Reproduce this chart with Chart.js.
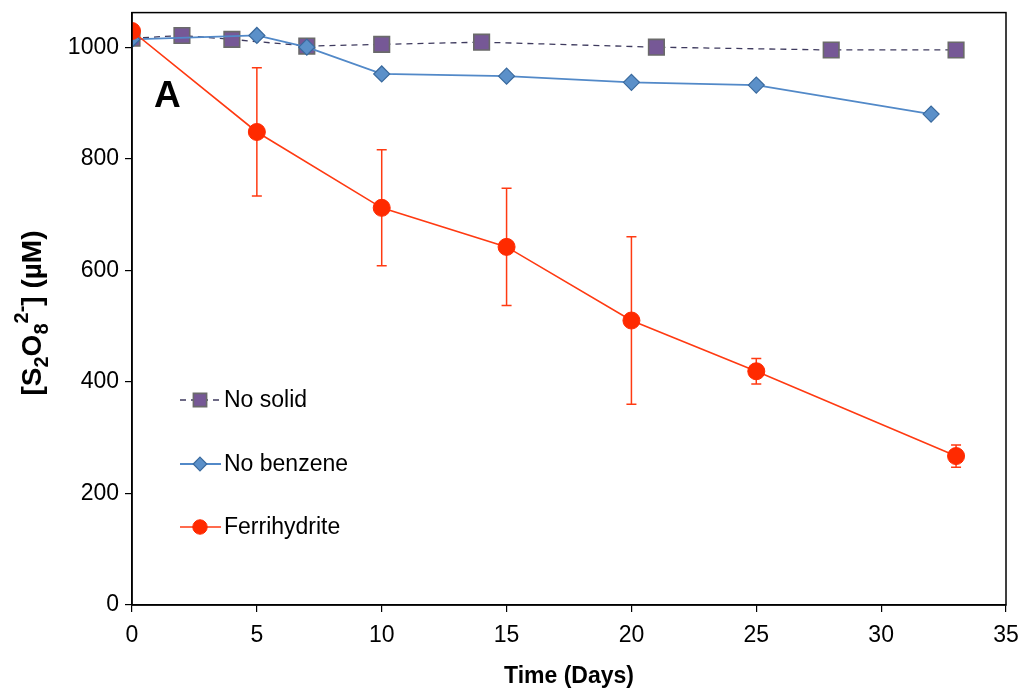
<!DOCTYPE html>
<html>
<head>
<meta charset="utf-8">
<script src="https://cdn.jsdelivr.net/npm/chart.js@4.4.1/dist/chart.umd.min.js"></script>
<style>
  html, body { margin: 0; padding: 0; background: #fff; }
  #wrap { width: 1025px; height: 694px; }
</style>
</head>
<body>
<div id="wrap"><canvas id="c" width="1025" height="694"></canvas></div>
<script>
// --- data ---
const noSolidX = [0, 2, 4, 7, 10, 14, 21, 28, 33];
const noSolidY = [1016, 1021, 1014, 1002, 1005, 1009, 1000, 995, 995];

const noBenzX = [0, 5, 7, 10, 15, 20, 25, 32];
const noBenzY = [1014, 1021, 1000, 952, 948, 937, 932, 880];

const ferriX = [0, 5, 10, 15, 20, 25, 33];
const ferriY = [1029, 848, 712, 642, 510, 419, 267];
const ferriErr = [0, 115, 104, 105, 150, 23, 20];

const xTicks = [0, 5, 10, 15, 20, 25, 30, 35];
const yTicks = [0, 200, 400, 600, 800, 1000];

const FONT = "'Liberation Sans', Arial, sans-serif";
const pts = (xs, ys) => xs.map((x, i) => ({ x, y: ys[i] }));

const datasets = [
  {
    label: "Ferrihydrite", data: pts(ferriX, ferriY),
    borderColor: "#ff3a12", backgroundColor: "#ff2a00", borderWidth: 1.6,
    pointStyle: "circle", pointRadius: 8.5, pointBorderColor: "#ff2a00", pointBorderWidth: 1,
    errors: ferriErr,
  },
  {
    label: "No benzene", data: pts(noBenzX, noBenzY),
    borderColor: "#5289c8", backgroundColor: "#5b90c9", borderWidth: 1.8,
    pointStyle: "rectRot", pointRadius: 8, pointBorderColor: "#3a6a9e", pointBorderWidth: 1.2,
  },
  {
    label: "No solid", data: pts(noSolidX, noSolidY),
    borderColor: "#3e3a5e", backgroundColor: "#765896", borderWidth: 1.3, borderDash: [6, 5],
    pointStyle: "rect", pointRadius: 11, pointBorderColor: "#6a6a6a", pointBorderWidth: 1.6,
  },
];

// error bars for datasets that carry an `errors` array
const errorBars = {
  id: "errorBars",
  beforeDatasetsDraw(chart) {
    const { ctx, scales: { x, y } } = chart;
    chart.data.datasets.forEach((d) => {
      if (!d.errors) return;
      ctx.save();
      ctx.strokeStyle = d.borderColor;
      ctx.lineWidth = 1.5;
      d.data.forEach((p, i) => {
        const e = d.errors[i];
        if (!e) return;
        const px = x.getPixelForValue(p.x);
        const top = y.getPixelForValue(p.y + e), bot = y.getPixelForValue(p.y - e);
        ctx.beginPath();
        ctx.moveTo(px, top); ctx.lineTo(px, bot);
        ctx.moveTo(px - 5, top); ctx.lineTo(px + 5, top);
        ctx.moveTo(px - 5, bot); ctx.lineTo(px + 5, bot);
        ctx.stroke();
      });
      ctx.restore();
    });
  },
};

// frame, panel letter, in-plot legend and the y title with sub/superscripts
const decor = {
  id: "decor",
  afterDraw(chart) {
    const { ctx, chartArea: a } = chart;
    ctx.save();
    ctx.strokeStyle = "#000";
    ctx.lineWidth = 1.5;
    ctx.strokeRect(a.left, a.top, a.right - a.left, a.bottom - a.top);

    ctx.fillStyle = "#000";
    ctx.font = "bold 37px " + FONT;
    ctx.textBaseline = "alphabetic";
    ctx.fillText("A", 154, 107);

    // legend
    const order = [2, 1, 0];
    const rows = [400, 464, 527];
    order.forEach((di, k) => {
      const d = chart.data.datasets[di];
      const yy = rows[k];
      ctx.save();
      ctx.strokeStyle = d.borderColor;
      ctx.lineWidth = d.borderWidth;
      ctx.setLineDash(d.borderDash || []);
      ctx.beginPath(); ctx.moveTo(180, yy); ctx.lineTo(221, yy); ctx.stroke();
      ctx.restore();
      ctx.save();
      ctx.fillStyle = d.backgroundColor;
      ctx.strokeStyle = d.pointBorderColor;
      ctx.lineWidth = d.pointBorderWidth;
      ctx.beginPath();
      const r = d.pointRadius * 0.85;
      if (d.pointStyle === "circle") ctx.arc(200, yy, r, 0, Math.PI * 2);
      else if (d.pointStyle === "rectRot") { ctx.moveTo(200, yy - r); ctx.lineTo(200 + r, yy); ctx.lineTo(200, yy + r); ctx.lineTo(200 - r, yy); ctx.closePath(); }
      else { const s = r * Math.SQRT1_2; ctx.rect(200 - s, yy - s, 2 * s, 2 * s); }
      ctx.fill(); ctx.stroke();
      ctx.restore();
      ctx.fillStyle = "#000";
      ctx.font = "23px " + FONT;
      ctx.textAlign = "left";
      ctx.textBaseline = "middle";
      ctx.fillText(d.label, 224, yy + 1);
    });

    // y axis title: [S2O8 2-] (µM)
    const parts = [
      ["[S", 0, 28], ["2", 7, 20], ["O", 0, 28], ["8", 7, 20], ["2-", -13, 20], ["] (\u00b5M)", 0, 28],
    ];
    let w = 0;
    parts.forEach((p) => { ctx.font = "bold " + p[2] + "px " + FONT; p.w = ctx.measureText(p[0]).width; w += p.w; });
    ctx.translate(33, 313);
    ctx.rotate(-Math.PI / 2);
    let cx = -w / 2;
    ctx.textAlign = "left";
    ctx.textBaseline = "alphabetic";
    parts.forEach((p) => {
      ctx.font = "bold " + p[2] + "px " + FONT;
      ctx.fillText(p[0], cx, 8 + p[1]);
      cx += p.w;
    });
    ctx.restore();
  },
};

new Chart(document.getElementById("c"), {
  type: "line",
  data: { datasets },
  options: {
    responsive: false, animation: false,
    layout: { padding: { top: 10, right: 19, left: 0, bottom: 0 } },
    plugins: { legend: { display: false }, tooltip: { enabled: false } },
    scales: {
      x: {
        type: "linear", min: 0, max: 35,
        afterBuildTicks: (s) => { s.ticks = xTicks.map((v) => ({ value: v })); },
        afterFit: (s) => { s.height = 89; s.paddingLeft = 0; s.paddingRight = 0; },
        grid: { drawOnChartArea: false, drawTicks: true, tickLength: 7, color: "#000", lineWidth: 1.2 },
        border: { color: "#000", width: 1.5 },
        ticks: { color: "#000", font: { family: FONT, size: 23 }, padding: 10, callback: (v) => String(v) },
        title: { display: true, text: "Time (Days)", color: "#000", font: { family: FONT, size: 23, weight: "bold" }, padding: { top: 6 } },
      },
      y: {
        type: "linear", min: 0, max: 1062,
        afterBuildTicks: (s) => { s.ticks = yTicks.map((v) => ({ value: v })); },
        afterFit: (s) => { s.width = 132; s.paddingTop = 0; s.paddingBottom = 0; },
        grid: { drawOnChartArea: false, drawTicks: true, tickLength: 7, color: "#000", lineWidth: 1.2 },
        border: { color: "#000", width: 1.5 },
        ticks: { color: "#000", font: { family: FONT, size: 23 }, padding: 6, callback: (v) => String(v) },
      },
    },
  },
  plugins: [errorBars, decor],
});
</script>
</body>
</html>
